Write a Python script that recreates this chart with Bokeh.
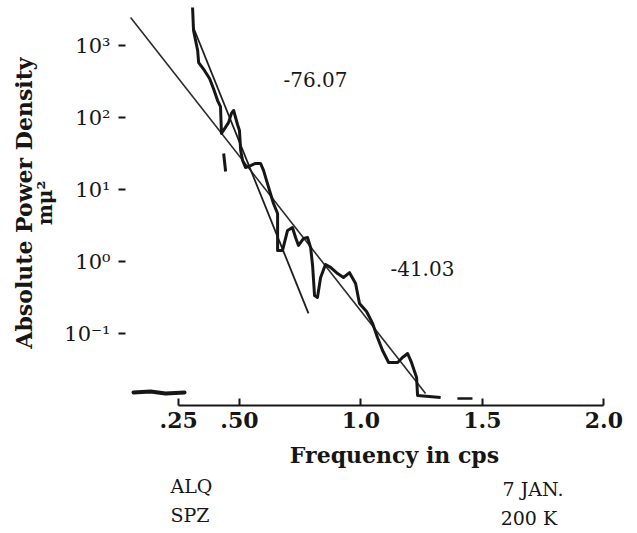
from bokeh.plotting import figure
from bokeh.layouts import column
from bokeh.models import FixedTicker, LogAxis, Label, Range1d
from bokeh.embed import file_html
from bokeh.resources import INLINE

# ---- data ----
freq = [0.307, 0.311, 0.328, 0.332, 0.356, 0.377, 0.393, 0.410, 0.422, 0.426,
        0.439, 0.455, 0.467, 0.476, 0.484, 0.492, 0.500, 0.505, 0.513, 0.525,
        0.546, 0.566, 0.587, 0.599, 0.620, 0.640, 0.657, 0.657, 0.677, 0.698,
        0.718, 0.731, 0.743, 0.764, 0.780, 0.793, 0.801, 0.809, 0.821, 0.834,
        0.854, 0.875, 0.904, 0.928, 0.953, 0.978, 0.994, 1.023, 1.048, 1.068,
        1.089, 1.114, 1.151, 1.171, 1.192, 1.208, 1.229, 1.233, 1.328]
power = [3370, 1616, 852, 580, 450, 348, 253, 172, 142, 60,
         70, 85, 114, 125, 100, 80, 66, 34.8, 25.3, 20.2,
         21.5, 23, 23, 18.4, 10.7, 6.4, 4.64, 1.42, 1.42, 2.70,
         2.97, 2.15, 1.67, 2.09, 2.15, 1.56, 0.88, 0.337, 0.316, 0.60,
         0.91, 0.83, 0.68, 0.60, 0.70, 0.495, 0.261, 0.202, 0.138, 0.088,
         0.058, 0.0396, 0.0396, 0.0464, 0.0528, 0.0396, 0.0245, 0.0138, 0.0129]

freq_tail = [1.397, 1.459]
power_tail = [0.0125, 0.0125]

freq_low = [0.064, 0.134, 0.196, 0.274]
power_low = [0.0152, 0.0157, 0.0147, 0.0152]

freq_spike = [0.435, 0.443]
power_spike = [31.6, 17.8]

fit_a_freq = [0.052, 1.266]      # slope -41.03
fit_a_power = [2448, 0.0147]
fit_b_freq = [0.307, 0.784]      # slope -76.07
fit_b_power = [1896, 0.190]

x_ticks = [0.25, 0.5, 1.0, 1.5, 2.0]
x_tick_labels = [".25", ".50", "1.0", "1.5", "2.0"]
y_ticks = [0.1, 1, 10, 100, 1000]
y_tick_labels = ["10\u207b\u00b9", "10\u2070", "10\u00b9", "10\u00b2", "10\u00b3"]

INK = "#161616"
SERIF = "DejaVu Serif"

x_range = Range1d(0.031, 2.06)

p = figure(width=637, height=440,
           x_range=x_range, y_range=Range1d(0.01, 4217),
           y_axis_type="log", output_backend="svg", toolbar_location=None,
           title=None, min_border_left=125, min_border_right=19,
           min_border_top=0, min_border_bottom=35)
p.outline_line_color = None
p.grid.visible = False
p.background_fill_color = "white"
p.border_fill_color = "white"

# fit lines
p.line(fit_a_freq, fit_a_power, line_width=1.6, color="#2a2a2a")
p.line(fit_b_freq, fit_b_power, line_width=1.8, color="#1e1e1e")
# traces
p.line(freq, power, line_width=3, color=INK, line_join="round")
p.line(freq_tail, power_tail, line_width=2.5, color=INK)
p.line(freq_low, power_low, line_width=4, color=INK, line_cap="round")
p.line(freq_spike, power_spike, line_width=3, color=INK)

# x axis
xa = p.xaxis[0]
xa.ticker = FixedTicker(ticks=x_ticks)
xa.major_label_overrides = {t: l for t, l in zip(x_ticks, x_tick_labels)}
xa.bounds = (0.25, 2.0)
xa.axis_line_width = 2
xa.axis_line_color = INK
xa.major_tick_in = 7
xa.major_tick_out = 0
xa.major_tick_line_width = 2
xa.major_tick_line_color = INK
xa.minor_tick_line_color = None
xa.major_label_standoff = 6
xa.major_label_text_font = SERIF
xa.major_label_text_font_style = "bold"
xa.major_label_text_font_size = "22px"
xa.major_label_text_color = INK

# y axis (inner, with tick labels)
ya = p.yaxis[0]
ya.ticker = FixedTicker(ticks=y_ticks)
ya.major_label_overrides = {t: l for t, l in zip(y_ticks, y_tick_labels)}
ya.axis_line_color = None
ya.major_tick_in = 0
ya.major_tick_out = 7
ya.major_tick_line_width = 2
ya.major_tick_line_color = INK
ya.minor_tick_line_color = None
ya.major_label_standoff = 8
ya.major_label_text_font = SERIF
ya.major_label_text_font_size = "21px"
ya.major_label_text_color = INK
ya.axis_label = "m\u03bc\u00b2"
ya.axis_label_standoff = 4
ya.axis_label_text_font = SERIF
ya.axis_label_text_font_style = "bold"
ya.axis_label_text_font_size = "20px"
ya.axis_label_text_color = INK

# y axis (outer, title only)
ya2 = LogAxis(ticker=FixedTicker(ticks=[]))
ya2.axis_line_color = None
ya2.major_tick_out = 0
ya2.major_tick_in = 0
ya2.minor_tick_line_color = None
ya2.major_label_standoff = 0
ya2.axis_label = "Absolute Power Density"
ya2.axis_label_standoff = -6
ya2.axis_label_text_font = SERIF
ya2.axis_label_text_font_style = "bold"
ya2.axis_label_text_font_size = "22px"
ya2.axis_label_text_color = INK
p.add_layout(ya2, "left")


def note(fig, x, y, text, size="20px", style="normal", align="left"):
    fig.add_layout(Label(x=x, y=y, text=text, text_font=SERIF,
                         text_font_size=size, text_font_style=style,
                         text_color=INK, text_align=align,
                         text_baseline="middle"))


note(p, 0.813, 337, "-76.07", align="center")
note(p, 1.253, 0.80, "-41.03", align="center")

# caption strip below the chart (shares the frequency range)
cap = figure(width=637, height=93, x_range=x_range, y_range=Range1d(93, 0),
             output_backend="svg", toolbar_location=None, title=None,
             x_axis_location=None, y_axis_location=None,
             min_border_left=125, min_border_right=19,
             min_border_top=0, min_border_bottom=0)
cap.outline_line_color = None
cap.grid.visible = False
cap.background_fill_color = "white"
cap.border_fill_color = "white"

note(cap, 1.138, 14, "Frequency in cps", size="22px", style="bold", align="center")
note(cap, 0.216, 45, "ALQ", size="19px")
note(cap, 0.216, 74, "SPZ", size="19px")
note(cap, 1.583, 48, "7 JAN.", size="19px")
note(cap, 1.575, 77, "200 K", size="19px")

layout = column(p, cap, spacing=0)
open("out.html", "w").write(file_html(layout, INLINE))
